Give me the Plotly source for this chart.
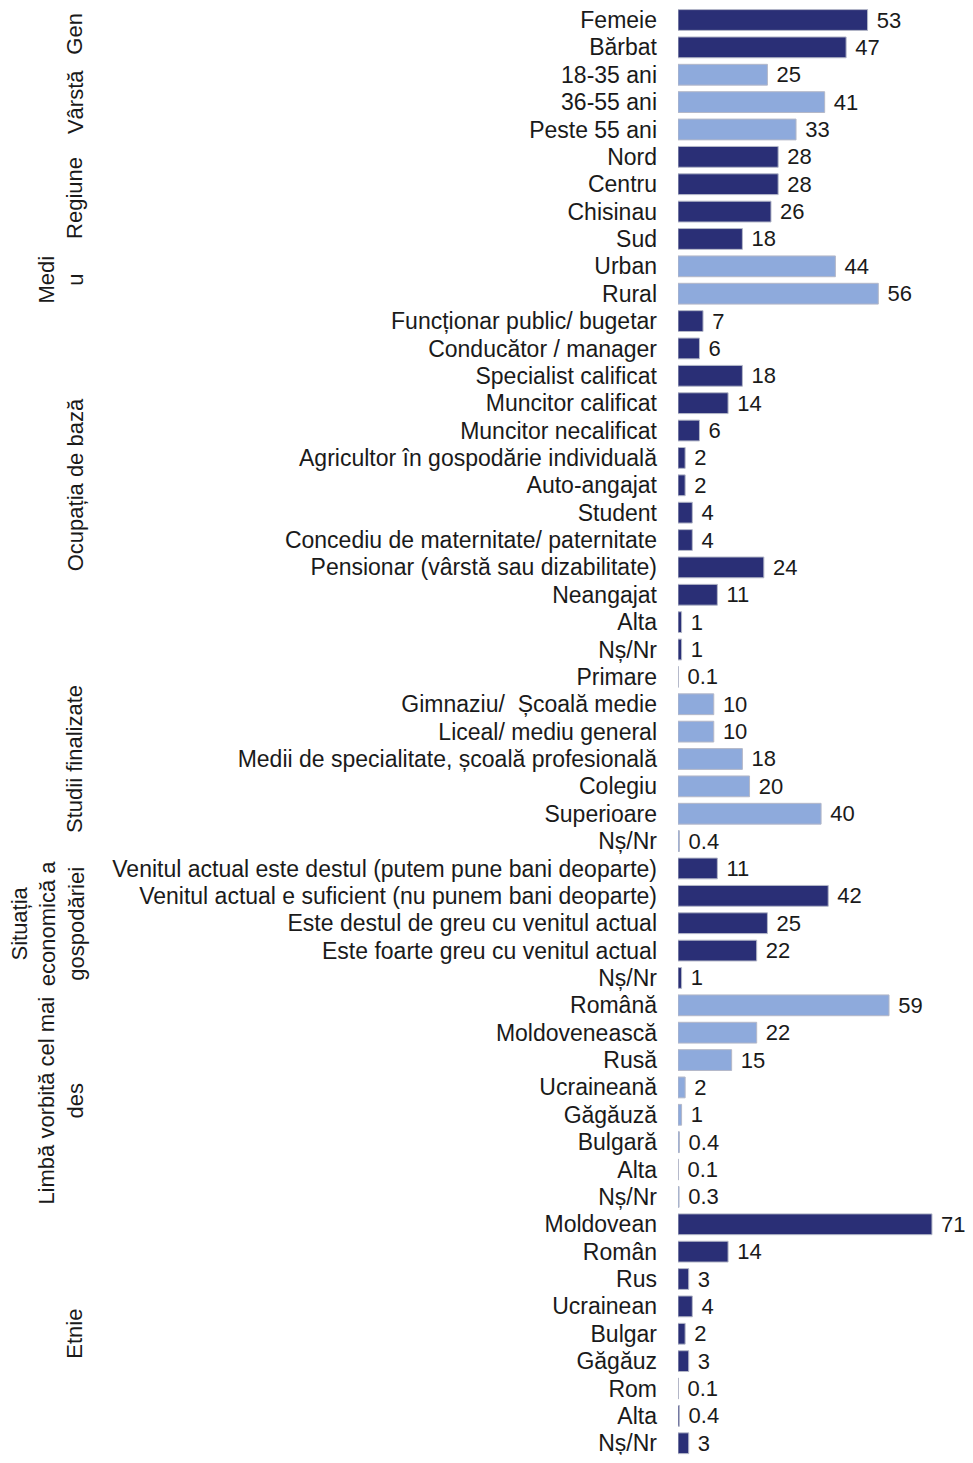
import plotly.graph_objects as go

# categories, top to bottom
labels = [
    "Femeie", "Bărbat",
    "18-35 ani", "36-55 ani", "Peste 55 ani",
    "Nord", "Centru", "Chisinau", "Sud",
    "Urban", "Rural",
    "Funcționar public/ bugetar", "Conducător / manager", "Specialist calificat",
    "Muncitor calificat", "Muncitor necalificat", "Agricultor în gospodărie individuală",
    "Auto-angajat", "Student", "Concediu de maternitate/ paternitate",
    "Pensionar (vârstă sau dizabilitate)", "Neangajat", "Alta", "Nș/Nr",
    "Primare", "Gimnaziu/  Școală medie", "Liceal/ mediu general",
    "Medii de specialitate, școală profesională", "Colegiu", "Superioare", "Nș/Nr",
    "Venitul actual este destul (putem pune bani deoparte)",
    "Venitul actual e suficient (nu punem bani deoparte)",
    "Este destul de greu cu venitul actual", "Este foarte greu cu venitul actual", "Nș/Nr",
    "Română", "Moldovenească", "Rusă", "Ucraineană", "Găgăuză", "Bulgară", "Alta", "Nș/Nr",
    "Moldovean", "Român", "Rus", "Ucrainean", "Bulgar", "Găgăuz", "Rom", "Alta", "Nș/Nr",
]

values = [
    53, 47,
    25, 41, 33,
    28, 28, 26, 18,
    44, 56,
    7, 6, 18, 14, 6, 2, 2, 4, 4, 24, 11, 1, 1,
    0.1, 10, 10, 18, 20, 40, 0.4,
    11, 42, 25, 22, 1,
    59, 22, 15, 2, 1, 0.4, 0.1, 0.3,
    71, 14, 3, 4, 2, 3, 0.1, 0.4, 3,
]

group_names = [
    "Gen", "Vârstă", "Regiune", "Medi<br>u", "Ocupația de bază", "Studii finalizate",
    "Situația<br>economică a<br>gospodăriei", "Limbă vorbită cel mai<br>des", "Etnie",
]
group_sizes = [2, 3, 4, 2, 13, 7, 5, 8, 9]

DARK = "#2a2f76"
LIGHT = "#8eaadc"
FONT = "Liberation Sans, Arial, sans-serif"

colors = []
for gi, n in enumerate(group_sizes):
    colors += [DARK if gi % 2 == 0 else LIGHT] * n

ypos = list(range(len(labels)))

fig = go.Figure(go.Bar(
    x=values, y=ypos, orientation="h",
    marker=dict(color=colors, line=dict(color="#b4b8c8", width=1)),
    text=[f"\u00a0{v:g}" for v in values],
    textposition="outside", cliponaxis=False, constraintext="none",
    textfont=dict(size=22, color="#1a1a1a", family=FONT),
    width=0.76,
))

# the page body adds an 8px margin on every side, so the figure is 16px smaller
FW, FH = 957, 1447
L = 670
W = FW - L
PITCH = 27.37
TOP = 12  # centre of first row, in figure pixels
start = 0
for name, n in zip(group_names, group_sizes):
    nlines = name.count("<br>") + 1
    cx = 67 - (nlines - 1) * 27 / 2
    fig.add_annotation(
        x=(cx - L) / W, xref="paper", y=start + (n - 1) / 2, yref="y",
        text=name, textangle=-90, showarrow=False,
        xanchor="center", yanchor="middle",
        font=dict(size=22, color="#1a1a1a", family=FONT),
    )
    start += n

fig.update_layout(
    width=FW, height=FH,
    margin=dict(l=L, r=0, t=0, b=0, autoexpand=False),
    plot_bgcolor="white", paper_bgcolor="white",
    showlegend=False,
    font=dict(family=FONT, size=22, color="#1a1a1a"),
    xaxis=dict(range=[0, W / 3.577], visible=False, showgrid=False, zeroline=False,
               automargin=False),
    yaxis=dict(
        range=[(FH - TOP) / PITCH, -TOP / PITCH], tickvals=ypos, ticktext=labels,
        showgrid=False, zeroline=False, showline=False, ticks="",
        ticklabeloverflow="allow", automargin=False,
        ticklabelstandoff=20, tickfont=dict(size=23, color="#1a1a1a", family=FONT),
    ),
)

fig.write_html("out.html")
